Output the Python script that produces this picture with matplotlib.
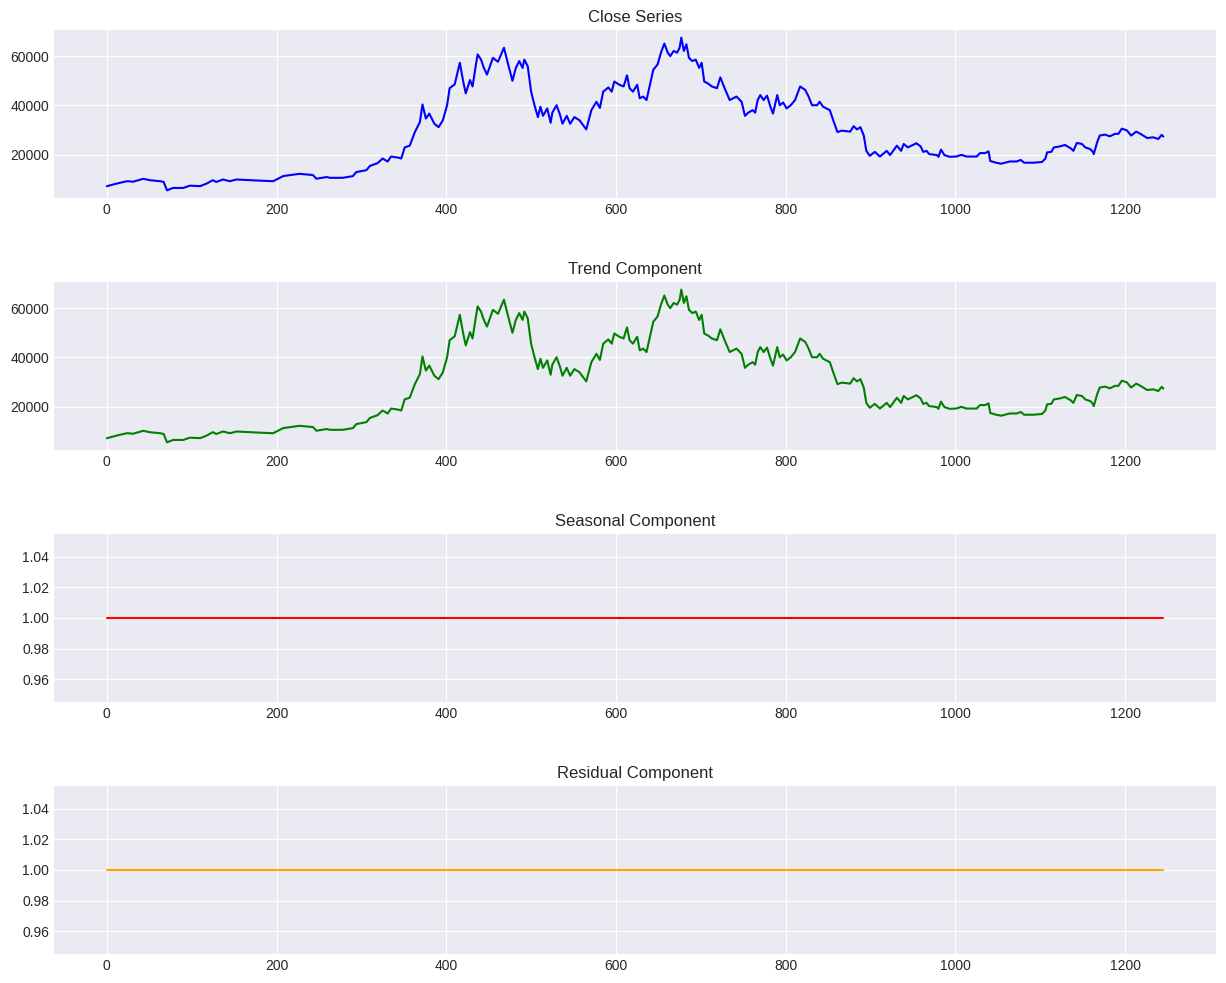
import matplotlib
matplotlib.use("Agg")
from matplotlib import pyplot as plt

plt.style.use('seaborn-v0_8-darkgrid')

# day index and close price
days = [0, 12, 24, 31, 43, 51, 63, 67, 71, 78, 90, 98, 110, 118, 125, 129, 137, 145,
        153, 176, 196, 208, 227, 243, 247, 259, 263, 278, 290, 294, 306, 310, 319, 325,
        331, 335, 343, 347, 351, 357, 363, 367, 369, 372, 376, 380, 386, 391, 396, 401,
        404, 410, 416, 420, 423, 428, 431, 435, 437, 441, 444, 448, 455, 461, 468, 473,
        478, 482, 486, 490, 492, 496, 500, 504, 508, 511, 514, 519, 523, 525, 530, 534,
        537, 542, 546, 551, 557, 565, 571, 577, 581, 585, 591, 595, 598, 604, 609, 613,
        616, 620, 625, 628, 632, 636, 640, 644, 649, 653, 657, 661, 664, 668, 672, 675,
        677, 680, 683, 686, 690, 694, 698, 701, 704, 708, 713, 719, 723, 728, 734, 742,
        748, 752, 756, 761, 764, 767, 770, 774, 778, 782, 785, 790, 793, 797, 801, 806,
        811, 817, 823, 827, 831, 837, 840, 844, 852, 856, 861, 866, 876, 880, 884, 888,
        892, 895, 899, 905, 911, 919, 923, 931, 936, 939, 944, 954, 959, 962, 966, 969,
        978, 980, 983, 987, 993, 1001, 1007, 1013, 1025, 1029, 1035, 1039, 1041, 1048,
        1054, 1064, 1072, 1077, 1081, 1092, 1102, 1106, 1108, 1113, 1116, 1123, 1129,
        1136, 1139, 1143, 1149, 1153, 1159, 1162, 1163, 1167, 1170, 1176, 1182, 1188,
        1192, 1196, 1202, 1207, 1213, 1218, 1226, 1233, 1239, 1243, 1245]
close = [7270, 8370, 9320, 9100, 10270, 9700, 9300, 9000, 5600, 6570, 6570, 7500, 7300,
         8400, 9730, 9000, 10000, 9300, 10000, 9600, 9300, 11400, 12300, 11800, 10300,
         11000, 10680, 10680, 11370, 13000, 13800, 15500, 16600, 18500, 17300, 19300,
         18900, 18500, 23000, 23700, 29200, 31900, 33300, 40400, 34700, 36700, 32600,
         31200, 34000, 40100, 47000, 48600, 57300, 49700, 44900, 50300, 47700, 56600,
         60700, 58600, 55500, 52500, 59300, 57700, 63400, 56600, 50000, 55200, 58000,
         55200, 58600, 55900, 45600, 40100, 35300, 39500, 35800, 38800, 33000, 37100,
         40100, 36300, 32600, 35800, 32600, 35300, 34000, 30300, 38100, 41500, 39000,
         45600, 47300, 45600, 49700, 48400, 47700, 52200, 47000, 45600, 48400, 42900,
         43600, 42200, 48400, 54500, 56600, 61400, 65100, 61400, 60000, 62100, 61400,
         63400, 67500, 62100, 64800, 59300, 58000, 58600, 55200, 57300, 49700, 49000,
         47700, 47000, 51400, 47000, 42200, 43600, 41500, 35800, 37100, 38100, 37100,
         42200, 44200, 42200, 44000, 39500, 36700, 44200, 40100, 41200, 38800, 40100,
         42200, 47700, 46300, 43600, 40100, 40100, 41500, 39500, 38100, 34000, 29200,
         29800, 29400, 31600, 30300, 31200, 27800, 21600, 19600, 21200, 19300, 21600,
         19900, 23700, 21600, 24400, 23000, 24700, 23400, 21200, 21600, 20300, 19900,
         19200, 22100, 19900, 19200, 19300, 20000, 19300, 19300, 20700, 20700, 21400,
         17500, 16800, 16400, 17300, 17300, 17900, 16800, 16800, 17100, 18500, 21000,
         21200, 23000, 23400, 24000, 22600, 21600, 24800, 24400, 23000, 22300, 21200,
         20300, 25100, 27800, 28200, 27500, 28500, 28500, 30600, 29900, 27800, 29400,
         28500, 26800, 27100, 26400, 28100, 27400]

# multiplicative decomposition with period 1: trend = close, seasonal = resid = 1
trend = list(close)
seasonal = [1.0] * len(days)
resid = [1.0] * len(days)

fig, axes = plt.subplots(4, 1, figsize=(12.26, 9.83), dpi=100)
fig.subplots_adjust(left=0.044, right=0.992, top=0.9695, bottom=0.0295, hspace=0.5)

axes[0].plot(days, close, color='blue')
axes[0].set_title('Close Series')
axes[1].plot(days, trend, color='green')
axes[1].set_title('Trend Component')
axes[2].plot(days, seasonal, color='red')
axes[2].set_title('Seasonal Component')
axes[3].plot(days, resid, color='orange')
axes[3].set_title('Residual Component')

plt.savefig('out.png', dpi=100)
